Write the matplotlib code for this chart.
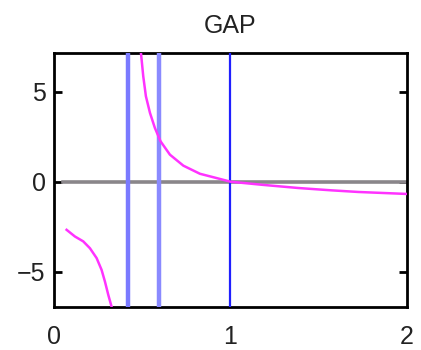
import matplotlib.pyplot as plt

plt.rcParams['font.family'] = ['Liberation Sans', 'DejaVu Sans']

# gap curve, left branch (below the pole)
gap_x_lo = [0.072, 0.119, 0.166, 0.204, 0.242, 0.270, 0.289, 0.308, 0.327, 0.332]
gap_y_lo = [-2.67, -3.04, -3.31, -3.69, -4.24, -4.89, -5.54, -6.28, -6.95, -7.3]

# gap curve, right branch (above the pole)
gap_x_hi = [0.490, 0.493, 0.506, 0.521, 0.544, 0.572, 0.604, 0.657, 0.733,
            0.827, 0.922, 1.0, 1.177, 1.384, 1.573, 1.724, 2.0]
gap_y_hi = [7.4, 7.15, 5.85, 4.74, 3.82, 2.98, 2.24, 1.50, 0.89,
            0.44, 0.20, 0.0, -0.17, -0.35, -0.48, -0.57, -0.68]

# zero reference
zero_x = [0.05, 2.0]
zero_y = [0.0, 0.0]

# vertical markers
marks = [0.42, 0.597, 1.0]
mark_colors = ['#7a7aff', '#8a8aff', '#2020ff']
mark_widths = [3.2, 3.2, 1.6]

fig = plt.figure(figsize=(4.21, 3.5), dpi=100)
ax = fig.add_axes([0.128, 0.123, 0.839, 0.726])

ax.plot(zero_x, zero_y, color='#8a868a', lw=2.6, zorder=2)
for xm, c, w in zip(marks, mark_colors, mark_widths):
    ax.axvline(xm, color=c, lw=w, zorder=3)
ax.plot(gap_x_lo, gap_y_lo, color='#ff33ff', lw=1.8, zorder=4)
ax.plot(gap_x_hi, gap_y_hi, color='#ff33ff', lw=1.8, zorder=4)

ax.set_xlim(0, 2)
ax.set_ylim(-6.95, 7.15)
ax.set_xticks([0, 1, 2])
ax.set_yticks([-5, 0, 5])
ax.set_xticklabels(['0', '1', '2'])
ax.set_yticklabels(['\u22125', '0', '5'])
ax.tick_params(axis='x', length=0, pad=13, labelsize=18, labelcolor='#222222')
ax.tick_params(axis='y', direction='in', length=6, width=2, right=True,
               pad=6, labelsize=18, labelcolor='#222222')
for s in ax.spines.values():
    s.set_linewidth(2)

ax.set_title('GAP', fontsize=18, color='#222222', pad=14)

fig.savefig('out.png', dpi=100)
